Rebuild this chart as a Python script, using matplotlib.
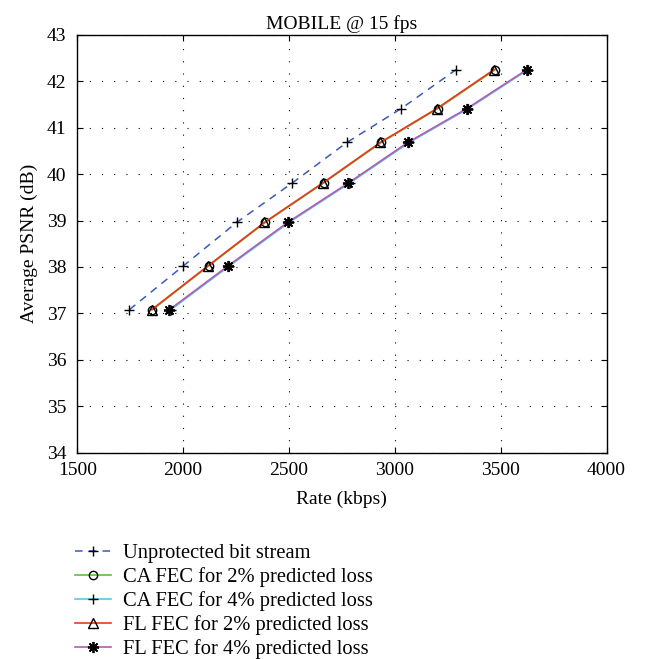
import numpy as np
import matplotlib
matplotlib.use("Agg")
import matplotlib.pyplot as plt

plt.rcParams["font.family"] = ["Liberation Serif", "DejaVu Serif"]

# values
psnr = [37.08, 38.02, 38.96, 39.81, 40.68, 41.41, 42.25]
rate_unprot = [1746, 2000, 2253, 2516, 2773, 3030, 3290]
rate_ca2 = [1855, 2120, 2388, 2664, 2936, 3203, 3475]
rate_ca4 = [1942, 2218, 2501, 2788, 3068, 3347, 3630]
rate_fl2 = [1851, 2116, 2384, 2660, 2931, 3198, 3469]
rate_fl4 = [1935, 2211, 2494, 2781, 3061, 3340, 3624]

labels = ["Unprotected bit stream",
          "CA FEC for 2% predicted loss",
          "CA FEC for 4% predicted loss",
          "FL FEC for 2% predicted loss",
          "FL FEC for 4% predicted loss"]

fig = plt.figure(figsize=(6.46, 6.59), dpi=100)
ax = fig.add_axes([0.1197, 0.3130, 0.8192, 0.6343])

l1, = ax.plot(rate_unprot, psnr, color="#3a5bb5", linestyle=(0, (5, 4)), lw=1.1,
              marker="+", mec="black", ms=7, mew=1.0)
l2, = ax.plot(rate_ca2, psnr, color="#66bb44", lw=1.2,
              marker="o", mfc="none", mec="black", ms=6, mew=1.0)
l3, = ax.plot(rate_ca4, psnr, color="#55ccdd", lw=1.2,
              marker="+", mec="black", ms=7, mew=1.0)
l4, = ax.plot(rate_fl2, psnr, color="#e8391d", lw=1.2,
              marker="^", mfc="none", mec="black", ms=6.5, mew=1.0)
l5, = ax.plot(rate_fl4, psnr, color="#b45ab8", lw=1.2,
              marker=(8, 2, 0), mfc="black", mec="black", ms=8, mew=1.3)

ax.set_xlim(1500, 4000)
ax.set_ylim(34, 43)
ax.set_xticks(np.arange(1500, 4001, 500))
ax.set_yticks(np.arange(34, 44, 1))
ax.grid(True, color="black", linestyle=(0, (1, 10)), lw=0.8)
ax.tick_params(direction="in", top=True, right=True, labelsize=14, length=4)
ax.tick_params(axis="x", pad=7)
ax.tick_params(axis="y", pad=8)
for s in ax.spines.values():
    s.set_linewidth(1.0)

ax.set_xlabel("Rate (kbps)", fontsize=14, labelpad=8)
ax.set_ylabel("Average PSNR (dB)", fontsize=14, labelpad=6)
ax.set_title("MOBILE @ 15 fps", fontsize=14, pad=4)

fig.legend([l1, l2, l3, l4, l5], labels, loc="upper left",
           bbox_to_anchor=(0.104, 0.188), frameon=False, numpoints=1,
           fontsize=14.8, handlelength=1.75, handletextpad=0.55,
           labelspacing=0.2, borderaxespad=0)

fig.savefig("out.png", dpi=100)
